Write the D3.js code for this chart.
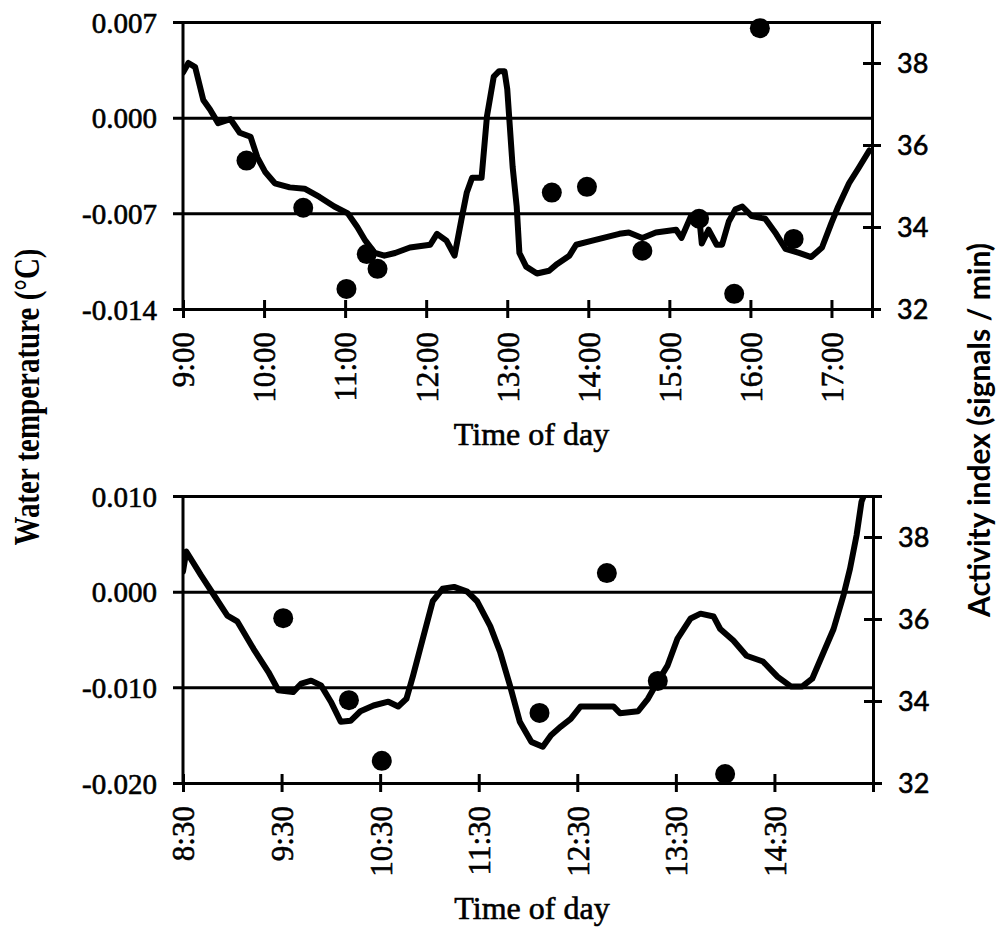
<html>
<meta charset="utf-8">
<head>
<script src="https://cdn.jsdelivr.net/npm/d3@7/dist/d3.min.js"></script>
<style>
  body { margin: 0; background: #fff; }
  .tick text { fill: #000; stroke: #000; stroke-width: 0.6px; }
</style>
</head>
<body>
<svg id="chart" width="1000" height="929"></svg>
<script>
// ---- data ----
// upper panel: water temperature (line) and activity index (dots)
var topTempTimes = ["9:00","9:04","9:09","9:15","9:20","9:26","9:35","9:42","9:50","9:55","10:01","10:08","10:19","10:30","10:41","10:52","11:02","11:09","11:15","11:22","11:29","11:37","11:48","12:03","12:08","12:15","12:21","12:26","12:30","12:34","12:41","12:45","12:50","12:54","12:58","13:00","13:04","13:07","13:09","13:14","13:22","13:31","13:37","13:46","13:51","14:03","14:23","14:30","14:40","14:50","15:05","15:09","15:16","15:22","15:24","15:29","15:35","15:39","15:44","15:49","15:54","16:01","16:11","16:19","16:26","16:36","16:45","16:53","17:00","17:05","17:13","17:20","17:28"];
var topTempValues = [0.0033,0.0040,0.0037,0.0013,0.0006,-0.0004,-0.0001,-0.0011,-0.0014,-0.0029,-0.0040,-0.0048,-0.0051,-0.0052,-0.0058,-0.0065,-0.0070,-0.0080,-0.0090,-0.0099,-0.0101,-0.0099,-0.0095,-0.0093,-0.0085,-0.0090,-0.0101,-0.0075,-0.0055,-0.0044,-0.0044,0.0001,0.0030,0.0034,0.0034,0.0021,-0.0036,-0.0065,-0.0099,-0.0109,-0.0114,-0.0112,-0.0107,-0.0101,-0.0093,-0.0090,-0.0085,-0.0084,-0.0088,-0.0084,-0.0082,-0.0088,-0.0072,-0.0072,-0.0092,-0.0082,-0.0093,-0.0093,-0.0076,-0.0067,-0.0065,-0.0072,-0.0074,-0.0085,-0.0096,-0.0099,-0.0102,-0.0095,-0.0077,-0.0065,-0.0048,-0.0037,-0.0024];
var topActTimes = ["9:47","10:29","11:01","11:16","11:24","13:33","13:59","14:40","15:22","15:48","16:07","16:32"];
var topActValues = [35.62,34.47,32.49,33.34,32.98,34.84,34.98,33.42,34.20,32.37,38.85,33.71];

// lower panel
var botTempTimes = ["8:30","8:32","8:41","8:49","8:57","9:03","9:13","9:22","9:28","9:37","9:42","9:48","9:54","10:00","10:06","10:12","10:18","10:26","10:35","10:41","10:46","10:50","10:56","11:02","11:08","11:15","11:23","11:29","11:37","11:43","11:49","11:55","12:02","12:09","12:14","12:20","12:26","12:32","12:52","12:56","13:07","13:13","13:19","13:25","13:31","13:39","13:45","13:53","13:57","14:05","14:13","14:23","14:32","14:40","14:47","14:53","14:59","15:06","15:12","15:16","15:20","15:23","15:25"];
var botTempValues = [0.0021,0.0042,0.0017,-0.0004,-0.0025,-0.0031,-0.0060,-0.0084,-0.0103,-0.0105,-0.0096,-0.0093,-0.0098,-0.0115,-0.0136,-0.0135,-0.0125,-0.0119,-0.0115,-0.0120,-0.0112,-0.0088,-0.0049,-0.0010,0.0003,0.0005,0.0000,-0.0010,-0.0036,-0.0063,-0.0098,-0.0136,-0.0157,-0.0162,-0.0150,-0.0141,-0.0133,-0.0120,-0.0120,-0.0127,-0.0125,-0.0112,-0.0094,-0.0077,-0.0049,-0.0028,-0.0023,-0.0026,-0.0039,-0.0051,-0.0067,-0.0073,-0.0089,-0.0099,-0.0099,-0.0091,-0.0067,-0.0039,-0.0004,0.0024,0.0059,0.0094,0.0103];
var botActTimes = ["9:31","10:11","10:31","12:07","12:48","13:19","14:00"];
var botActValues = [36.02,34.02,32.54,33.71,37.12,34.49,32.22];

// axes
var topTimeTicks = ["9:00","10:00","11:00","12:00","13:00","14:00","15:00","16:00","17:00"];
var botTimeTicks = ["8:30","9:30","10:30","11:30","12:30","13:30","14:30"];
var topTimeRange = ["9:00","17:30"];
var botTimeRange = ["8:30","15:30"];
var topTempTicks = [-0.014, -0.007, 0, 0.007];
var botTempTicks = [-0.020, -0.010, 0, 0.010];
var actTicks = [32, 34, 36, 38];
var actRange = [32, 39];

var parseT = d3.timeParse("%H:%M");
var fmtT = d3.timeFormat("%-H:%M");

var svg = d3.select("#chart");

function panel(o) {
  var w = o.right - o.left, h = o.bottom - o.top;
  var g = svg.append("g").attr("transform", "translate(" + o.left + "," + o.top + ")");

  var x = d3.scaleTime().domain(o.timeRange.map(parseT)).range([0, w]);
  var yT = d3.scaleLinear().domain([o.tempTicks[0], o.tempTicks[o.tempTicks.length - 1]]).range([h, 0]);
  var yA = d3.scaleLinear().domain(actRange).range([h, 0]);

  // left axis: ticks stretched across as gridlines
  var ya = g.append("g")
    .call(d3.axisLeft(yT).tickValues(o.tempTicks).tickFormat(function(d) { return d.toFixed(3); }));
  ya.select(".domain").remove();
  ya.selectAll(".tick line").attr("x1", -10).attr("x2", w).attr("stroke", "#000").attr("stroke-width", 3);
  ya.selectAll(".tick text").attr("x", -26).attr("dy", "0.35em")
    .style("font-family", "'Liberation Serif', 'Times New Roman', serif").style("font-size", "29px");

  g.append("line").attr("x1", 0).attr("x2", 0).attr("y1", 0).attr("y2", h)
    .attr("stroke", "#000").attr("stroke-width", 3);

  // right axis
  var ra = g.append("g").attr("transform", "translate(" + w + ",0)")
    .call(d3.axisRight(yA).tickValues(actTicks).tickFormat(d3.format("d")).tickSizeOuter(0).tickSize(9));
  ra.select(".domain").attr("stroke-width", 3);
  ra.selectAll(".tick line").attr("x1", -9).attr("stroke-width", 3);
  ra.selectAll(".tick text").attr("x", 25).attr("dy", "0.35em")
    .style("font-family", "Lato, 'Liberation Sans', sans-serif").style("font-size", "27px");

  // bottom axis
  var xa = g.append("g").attr("transform", "translate(0," + h + ")")
    .call(d3.axisBottom(x).tickValues(o.timeTicks.map(parseT)).tickFormat(fmtT).tickSizeOuter(0).tickSize(9));
  xa.select(".domain").attr("stroke-width", 3);
  xa.selectAll(".tick line").attr("y1", -9).attr("stroke-width", 3);
  xa.selectAll(".tick text")
    .attr("transform", "rotate(-90)")
    .attr("text-anchor", "end")
    .attr("x", -23).attr("y", 0).attr("dy", "0.35em")
    .style("font-family", "'Liberation Serif', 'Times New Roman', serif").style("font-size", "31px");

  g.append("text")
    .attr("x", w / 2 + 4).attr("y", h + 136)
    .attr("text-anchor", "middle")
    .attr("stroke", "#000").attr("stroke-width", 0.6)
    .style("font-family", "'Liberation Serif', 'Times New Roman', serif").style("font-size", "32px")
    .text("Time of day");

  // temperature line
  var cid = "clip" + o.id;
  g.append("clipPath").attr("id", cid).append("rect").attr("width", w).attr("height", h);
  var pts = o.tempTimes.map(function(t, i) { return [parseT(t), o.tempValues[i]]; });
  g.append("path")
    .datum(pts)
    .attr("clip-path", "url(#" + cid + ")")
    .attr("fill", "none").attr("stroke", "#000").attr("stroke-width", 6)
    .attr("stroke-linejoin", "round").attr("stroke-linecap", "round")
    .attr("d", d3.line().x(function(d) { return x(d[0]); }).y(function(d) { return yT(d[1]); }));

  // activity dots
  g.selectAll("circle.act")
    .data(o.actTimes.map(function(t, i) { return [parseT(t), o.actValues[i]]; }))
    .enter().append("circle")
    .attr("class", "act")
    .attr("cx", function(d) { return x(d[0]); })
    .attr("cy", function(d) { return yA(d[1]); })
    .attr("r", 10)
    .attr("fill", "#000");
}

panel({ id: 1, left: 183, right: 872, top: 22, bottom: 309,
  timeRange: topTimeRange, timeTicks: topTimeTicks, tempTicks: topTempTicks,
  tempTimes: topTempTimes, tempValues: topTempValues, actTimes: topActTimes, actValues: topActValues });

panel({ id: 2, left: 183, right: 873, top: 496, bottom: 783,
  timeRange: botTimeRange, timeTicks: botTimeTicks, tempTicks: botTempTicks,
  tempTimes: botTempTimes, tempValues: botTempValues, actTimes: botActTimes, actValues: botActValues });

// shared axis titles
svg.append("text")
  .attr("transform", "translate(39,397) rotate(-90)")
  .attr("text-anchor", "middle")
  .attr("textLength", 297).attr("lengthAdjust", "spacingAndGlyphs")
  .style("font-family", "'Liberation Serif', 'Times New Roman', serif").style("font-size", "36px").style("font-weight", "bold")
  .text("Water temperature (°C)");

svg.append("text")
  .attr("transform", "translate(990,430) rotate(-90)")
  .attr("text-anchor", "middle")
  .attr("textLength", 374).attr("lengthAdjust", "spacingAndGlyphs")
  .style("font-family", "Lato, 'Liberation Sans', sans-serif").style("font-size", "31px").style("font-weight", "bold")
  .text("Activity index (signals / min)");
</script>
</body>
</html>
